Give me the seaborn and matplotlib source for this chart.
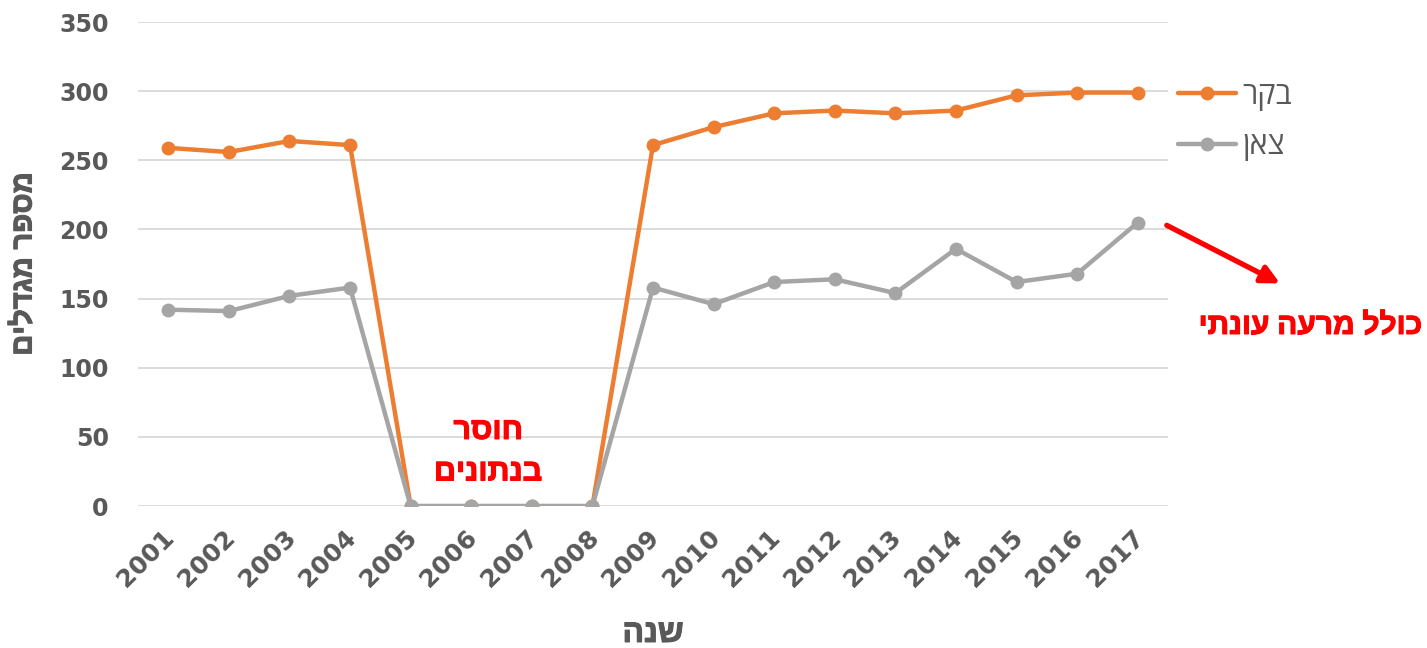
import matplotlib
matplotlib.use("Agg")
import matplotlib.pyplot as plt
import matplotlib.patheffects as pe
import matplotlib.transforms as mtrans
import seaborn as sns
import pandas as pd

years = list(range(2001, 2018))
cattle = [259, 256, 264, 261, 0, 0, 0, 0, 261, 274, 284, 286, 284, 286, 297, 299, 299]
sheep = [142, 141, 152, 158, 0, 0, 0, 0, 158, 146, 162, 164, 154, 186, 162, 168, 205]
series_names = ["בקר", "צאן"]
y_ticks = [0, 50, 100, 150, 200, 250, 300, 350]
x_label = "שנה"
y_label = "מספר מגדלים"
note_missing = "חוסר\nבנתונים"
note_grazing = "כולל מרעה עונתי"


def rtl(s):
    return "\n".join(line[::-1] for line in s.split("\n"))


df = pd.DataFrame({
    "year": years * 2,
    "value": cattle + sheep,
    "series": [series_names[0]] * len(years) + [series_names[1]] * len(years),
})

sns.set_theme(style="white")
plt.rcParams["font.family"] = ["DejaVu Sans"]
HEB = ["Open Sans", "Liberation Sans", "DejaVu Sans"]

TXT = "#595959"
fig = plt.figure(figsize=(14.27, 6.48), dpi=100)
ax = fig.add_axes([0.0967, 0.219, 0.7218, 0.747])

sns.lineplot(data=df, x="year", y="value", hue="series", hue_order=series_names,
             palette=["#ED7D31", "#A5A5A5"], marker="o", markersize=10,
             markeredgewidth=0, linewidth=3.2, ax=ax, legend=True)

ax.set_xlim(2000.5, 2017.5)
ax.set_ylim(0, 350)
ax.set_yticks(y_ticks)
ax.set_xticks(years)
ax.set_xticklabels([str(y) for y in years], rotation=45, ha="right",
                   rotation_mode="anchor", fontsize=18, fontweight="bold", color=TXT)
ax.set_yticklabels([str(v) for v in y_ticks], fontsize=17, fontweight="bold", color=TXT)
ax.tick_params(axis="both", length=0)
ax.tick_params(axis="y", pad=21)
ax.tick_params(axis="x", pad=14)
shift = mtrans.ScaledTranslation(-6 / 100, 0, fig.dpi_scale_trans)
for lab in ax.get_xticklabels():
    lab.set_transform(lab.get_transform() + shift)
ax.yaxis.grid(True, color="#D9D9D9", linewidth=1.3)
ax.xaxis.grid(False)
for sp in ax.spines.values():
    sp.set_visible(False)

bold_gray = [pe.withStroke(linewidth=0.8, foreground=TXT)]
bold_red = [pe.withStroke(linewidth=0.8, foreground="red")]

xl = ax.set_xlabel(rtl(x_label), fontsize=23, fontweight="bold", color=TXT, labelpad=18,
                   family=HEB)
yl = ax.set_ylabel(rtl(y_label), fontsize=21, fontweight="bold", color=TXT, labelpad=15,
                   family=HEB)
xl.set_path_effects(bold_gray)
yl.set_path_effects(bold_gray)

handles, labels = ax.get_legend_handles_labels()
leg = ax.legend(handles, [rtl(l) for l in labels], loc="center left",
                bbox_to_anchor=(1178 / 1427, 1 - 121 / 648),
                bbox_transform=fig.transFigure, frameon=False,
                prop={"family": HEB, "size": 22},
                handlelength=1.9, handletextpad=0.2, labelspacing=0.68,
                borderaxespad=0, borderpad=0)
for t in leg.get_texts():
    t.set_color(TXT)

t1 = ax.text(2006.28, 13.5, rtl(note_missing), color="red", fontsize=22, fontweight="bold",
             ha="center", va="bottom", linespacing=1.5, family=HEB)
t1.set_path_effects(bold_red)

ax.annotate("", xy=(2019.35, 161), xytext=(2017.48, 203), xycoords="data",
            annotation_clip=False,
            arrowprops=dict(arrowstyle="-|>,head_length=0.9,head_width=0.45",
                            color="red", lw=3.8, shrinkA=0, shrinkB=0))
t2 = fig.text(0.9965, 0.497, rtl(note_grazing), color="red", fontsize=21.5,
              fontweight="bold", ha="right", va="center", family=HEB)
t2.set_path_effects(bold_red)

fig.savefig("out.png", dpi=100, facecolor="white")
